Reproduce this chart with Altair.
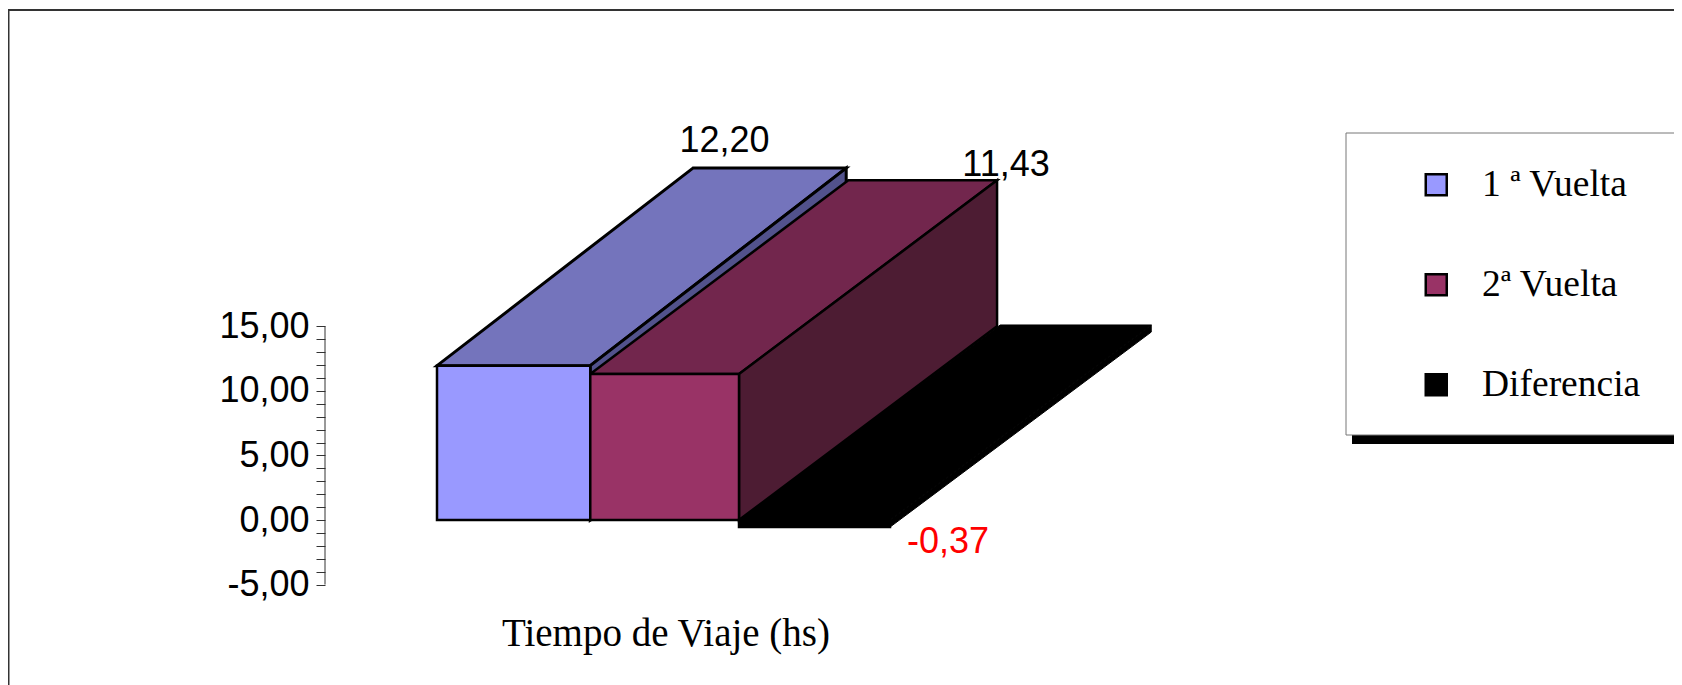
import altair as alt
import pandas as pd

# --- values ---
series = ["1 ª Vuelta", "2ª Vuelta", "Diferencia"]
drawn_heights = [11.95, 11.3, -0.55]          # heights as drawn against the axis
value_labels = ["12,20", "11,43", "-0,37"]
front_colors = ["#9999ff", "#993366", "#000000"]
top_colors = ["#7474bc", "#72264d", "#000000"]
side_colors = ["#52528c", "#4d1c33", "#000000"]
label_colors = ["#000000", "#000000", "#ff0000"]
y_ticks = [-5, 0, 5, 10, 15]
bar_edges = [0, 1.015, 2.0, 3.0]              # in bar widths
depth_x = [1.695, 1.709, 1.73]                # receding offset, in bar widths
depth_y = [15.3, 15.0, 15.1]                  # receding offset, in axis units
stroke_w = [3, 2.5, 1]

W, H = 1349, 677
PAD_L = 317
px_x = 151.0       # pixels per bar width
px_y = 12.915      # pixels per axis unit
x0 = (437 - 325) / px_x
y_top = (520 - 8) / px_y
x_scale = alt.Scale(domain=[-x0, -x0 + W / px_x], nice=False, zero=False)
y_scale = alt.Scale(domain=[y_top - H / px_y, y_top], nice=False, zero=False)

SERIF = "Liberation Serif"
SANS = "Liberation Sans"


def top_face(i):
    v = max(drawn_heights[i], 0)
    l, r = bar_edges[i], bar_edges[i + 1]
    df = pd.DataFrame({
        "y": [v, v + depth_y[i]],
        "x": [l, l + depth_x[i]],
        "x2": [r, r + depth_x[i]],
    })
    return alt.Chart(df).mark_area(
        orient="horizontal", color=top_colors[i], stroke="black", strokeWidth=stroke_w[i]
    ).encode(
        y=alt.Y("y:Q", scale=y_scale, axis=None),
        x=alt.X("x:Q", scale=x_scale, axis=None),
        x2="x2:Q",
    )


def side_face(i):
    base, v = (0, drawn_heights[i]) if i < 2 else (drawn_heights[i], 0)
    r = bar_edges[i + 1]
    df = pd.DataFrame({
        "x": [r, r + depth_x[i]],
        "y": [base, base + depth_y[i]],
        "y2": [v, v + depth_y[i]],
    })
    return alt.Chart(df).mark_area(
        orient="vertical", color=side_colors[i], stroke="black", strokeWidth=stroke_w[i]
    ).encode(
        x=alt.X("x:Q", scale=x_scale, axis=None),
        y=alt.Y("y:Q", scale=y_scale, axis=None),
        y2="y2:Q",
    )


fronts = pd.DataFrame({
    "serie": series,
    "x": bar_edges[:3],
    "x2": bar_edges[1:],
    "y": [0, 0, 0],
    "y2": drawn_heights,
})
label_expr = (
    "datum.value % 5 === 0 ? "
    "replace(replace(format(datum.value, '.2f'), '.', ','), '\u2212', '-') : ''"
)
front = alt.Chart(fronts).mark_rect(stroke="black", strokeWidth=2.5).encode(
    x=alt.X("x:Q", scale=x_scale, axis=alt.Axis(
        title="Tiempo de Viaje (hs)", domain=False, ticks=False, labels=False, grid=False,
        titleFont=SERIF, titleFontSize=39, titleFontWeight="normal", titleColor="#000000",
        titleX=340.5, titleY=-40, titleAlign="center", titleBaseline="alphabetic",
    )),
    x2="x2:Q",
    y=alt.Y("y:Q", scale=y_scale, axis=alt.Axis(
        title=None, domain=False, grid=False, values=list(range(-5, 16)),
        tickSize=9, tickColor="#333333", tickWidth=1,
        labelFont=SANS, labelFontSize=36, labelColor="#000000", labelPadding=7,
        labelOverlap=False, labelBound=False, labelFlush=False, labelBaseline="middle",
        labelExpr=label_expr,
    )),
    y2="y2:Q",
    color=alt.Color("serie:N", sort=series,
                    scale=alt.Scale(domain=series, range=front_colors),
                    legend=alt.Legend(
                        title=None, orient="none", legendX=1092.5, legendY=158, padding=0,
                        symbolType="square", symbolSize=441, symbolStrokeColor="black",
                        symbolStrokeWidth=2.5, symbolOpacity=1, rowPadding=61,
                        labelFont=SERIF, labelFontSize=37.5, labelColor="#000000",
                        labelOffset=27, labelLimit=400,
                    )),
)

one = pd.DataFrame({"a": [0]})
frame_top = alt.Chart(one).mark_rule(color="#333333", strokeWidth=2).encode(
    x=alt.value(-PAD_L), x2=alt.value(W), y=alt.value(2))
frame_left = alt.Chart(one).mark_rule(color="#333333", strokeWidth=2).encode(
    x=alt.value(-316.5), y=alt.value(1), y2=alt.value(H))
shadow = alt.Chart(one).mark_rect(color="#000000").encode(
    x=alt.value(1352 - 325), x2=alt.value(W), y=alt.value(135), y2=alt.value(436))
box = alt.Chart(one).mark_rect(fill="#ffffff", stroke="#777777", strokeWidth=1).encode(
    x=alt.value(1346 - 325), x2=alt.value(W + 10), y=alt.value(125), y2=alt.value(427))

axis_line = alt.Chart(pd.DataFrame({"y": [min(y_ticks)], "y2": [max(y_ticks)]})).mark_rule(
    color="#333333", strokeWidth=1
).encode(x=alt.value(0), y=alt.Y("y:Q", scale=y_scale, axis=None), y2="y2:Q")


def value_text(i, xv, yv, dx, dy):
    df = pd.DataFrame({"x": [xv], "y": [yv], "t": [value_labels[i]]})
    return alt.Chart(df).mark_text(
        font=SANS, fontSize=36, color=label_colors[i], baseline="alphabetic",
        align="center", dx=dx, dy=dy,
    ).encode(
        x=alt.X("x:Q", scale=x_scale, axis=None),
        y=alt.Y("y:Q", scale=y_scale, axis=None),
        text="t:N",
    )


labels = [
    value_text(0, 0.5 + depth_x[0], drawn_heights[0] + depth_y[0], -44, -16),
    value_text(1, 2 + depth_x[1], drawn_heights[1] + depth_y[1], 9, -4),
    value_text(2, 3, drawn_heights[2], 58, 26),
]

chart = alt.layer(
    frame_top, frame_left, shadow, box, axis_line,
    top_face(0), side_face(0),
    top_face(2), side_face(2),
    top_face(1), side_face(1),
    front, *labels,
).resolve_axis(x="independent", y="independent").properties(
    width=W, height=H,
    padding={"left": PAD_L, "top": 0, "right": 0, "bottom": 0},
    autosize=alt.AutoSizeParams(type="none"),
    background="#ffffff",
).configure_view(stroke=None)

chart.save("out.html", embed_options={"renderer": "svg", "actions": False})
